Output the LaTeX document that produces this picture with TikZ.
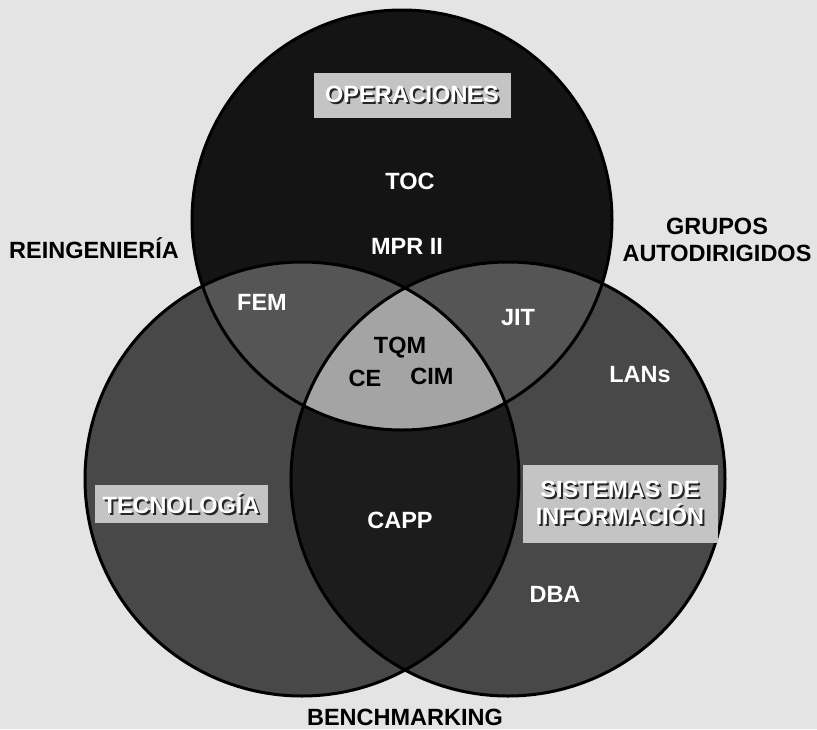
\documentclass[tikz,border=0pt]{standalone}
\usepackage{fontspec}
\newfontfamily\vennfont{Liberation Sans}
\usepackage{xcolor}
\definecolor{paper}{HTML}{E4E4E4}
\definecolor{topdark}{HTML}{141414}
\definecolor{sidegray}{HTML}{484848}
\definecolor{lensgray}{HTML}{555555}
\definecolor{bottomdark}{HTML}{1C1C1C}
\definecolor{coregray}{HTML}{A4A4A4}
\definecolor{boxgray}{HTML}{C4C4C4}
% white lettering with a dark drop shadow
\newcommand{\dropshade}[1]{\rlap{\kern2pt\raisebox{-2pt}{\color{black!85}#1}}#1}

\begin{document}
\begin{tikzpicture}[x=1pt,y=-1pt,
  lbl/.style={font=\vennfont\bfseries\fontsize{23.5}{27}\selectfont,inner sep=0pt,text=white},
  outer/.style={lbl,text=black,align=center},
  tagbox/.style={fill=boxgray,inner sep=0pt,lbl,align=center}]
% page and its margins
\fill[paper] (0,0) rectangle (817,729);
\useasboundingbox (0,0) rectangle (817,729);
% circle centres
\coordinate (ctop) at (402,220);
\coordinate (cleft) at (302,479);
\coordinate (cright) at (508,479);
% single regions
\fill[sidegray] (cleft) circle[radius=217pt];
\fill[sidegray] (cright) circle[radius=217pt];
\fill[topdark] (ctop) circle[radius=210pt];
% lenses with the top circle
\begin{scope}
\clip (ctop) circle[radius=210pt];
\fill[lensgray] (cleft) circle[radius=217pt];
\fill[lensgray] (cright) circle[radius=217pt];
\end{scope}
% lens of the two lower circles
\begin{scope}
\clip (cleft) circle[radius=217pt];
\fill[bottomdark] (cright) circle[radius=217pt];
\clip (cright) circle[radius=217pt];
\fill[coregray] (ctop) circle[radius=210pt];
\end{scope}
% outlines
\draw[black,line width=3pt] (ctop) circle[radius=210pt];
\draw[black,line width=3pt] (cleft) circle[radius=217pt];
\draw[black,line width=3pt] (cright) circle[radius=217pt];
% boxed titles
\node[tagbox,minimum width=197pt,minimum height=45pt] (oper) at (412,95) {\dropshade{OPERACIONES}};
\node[tagbox,minimum width=173pt,minimum height=38pt] (tecno) at (181,504) {\dropshade{TECNOLOGÍA}};
\node[tagbox,minimum width=195pt,minimum height=78pt] (sistemas) at (620,504)
  {\dropshade{SISTEMAS DE}\\\dropshade{INFORMACIÓN}};
% labels inside the circles
\node[lbl] (toc) at (410,181) {TOC};
\node[lbl] (mpr) at (407,246) {MPR II};
\node[lbl] (fem) at (262,302) {FEM};
\node[lbl] (jit) at (518,318) {JIT};
\node[lbl,text=black] (tqm) at (400,348) {TQM};
\node[lbl,text=black] (ce) at (365,378) {CE};
\node[lbl,text=black] (cim) at (432,376) {CIM};
\node[lbl] (lans) at (640,375) {LANs};
\node[lbl] (capp) at (400,520) {CAPP};
\node[lbl] (dba) at (555,594) {DBA};
% labels outside
\node[outer] (reing) at (94,248) {REINGENIERÍA};
\node[outer] (grupos) at (717,240) {GRUPOS\\AUTODIRIGIDOS};
\node[outer] (bench) at (405,717) {BENCHMARKING};
\end{tikzpicture}
\end{document}
